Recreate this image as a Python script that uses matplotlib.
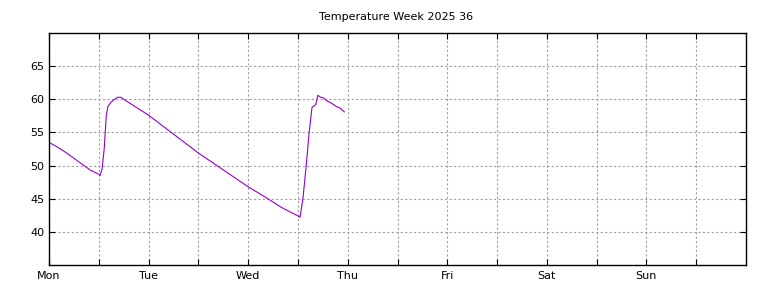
import matplotlib
matplotlib.use('Agg')
import matplotlib.pyplot as plt
import numpy as np

# hours since Monday 00:00, temperature
hours = [0, 2, 4, 6, 8, 10, 12, 12.3, 12.8, 13.3, 13.8, 14.2, 15.0, 15.8, 16.5, 17.3,
         20, 24, 28, 32, 36, 40, 44, 48, 52, 56, 60, 60.5,
         61.2, 62.0, 62.7, 63.4, 63.9, 64.3, 64.8, 65.5, 66.2, 66.9, 68.1, 69.3, 70.1, 71.2]
temps = [53.5, 52.8, 52.0, 51.1, 50.2, 49.3, 48.7, 48.5, 49.5, 52.5, 57.5, 58.9, 59.6, 60.0, 60.3, 60.3,
         59.2, 57.6, 55.7, 53.8, 51.9, 50.2, 48.5, 46.8, 45.3, 43.7, 42.4, 42.2,
         45.0, 50.0, 55.0, 58.8, 59.0, 59.2, 60.6, 60.3, 60.2, 59.8, 59.4, 58.9, 58.7, 58.1]

day_labels = ['Mon', 'Tue', 'Wed', 'Thu', 'Fri', 'Sat', 'Sun']
day_ticks = np.arange(0, 168, 24)
half_ticks = np.arange(12, 168, 24)
y_ticks = [40, 45, 50, 55, 60, 65]

plt.rcParams['font.family'] = 'DejaVu Sans'
plt.rcParams['font.size'] = 8

fig = plt.figure(figsize=(7.68, 2.88), dpi=100)
ax = fig.add_axes([49/768, 1 - 265/288, (746-49)/768, (265-33)/288])

ax.plot(hours, temps, color='#9400d3', lw=0.8)

ax.set_xlim(0, 168)
ax.set_ylim(35, 70)
ax.set_xticks(day_ticks)
ax.set_xticklabels(day_labels)
ax.set_xticks(half_ticks, minor=True)
ax.set_yticks(y_ticks)

ax.tick_params(which='both', direction='in', top=True, right=True, length=4, width=0.8)
ax.tick_params(axis='x', pad=4)
ax.grid(which='both', color='#a0a0a0', linestyle=(0, (2, 2)), lw=0.8)
for s in ax.spines.values():
    s.set_linewidth(1.0)

fig.suptitle('Temperature Week 2025 36', x=396/768, y=1 - 12/288, va='top', fontsize=8)

fig.savefig('out.png', dpi=100)
